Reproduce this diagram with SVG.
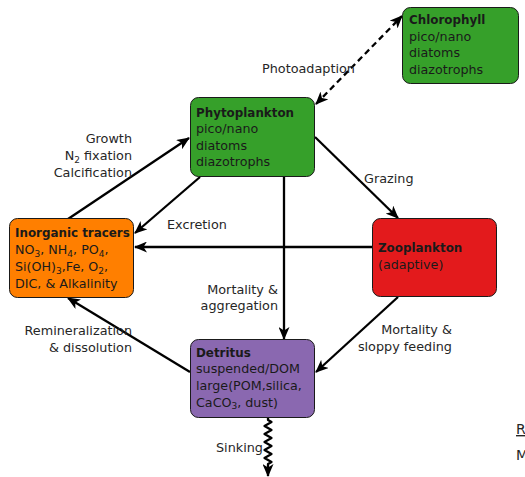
<svg xmlns="http://www.w3.org/2000/svg" width="525" height="477" viewBox="0 0 525 477">
<style>
text{font-family:"DejaVu Sans","Liberation Sans",sans-serif;font-size:12.7px;fill:#1a1a1a}
.b{font-weight:bold;font-size:11.9px}
.lab{font-size:12.8px;fill:#262626}
.r{text-anchor:end}
.box{stroke:#1a1a1a;stroke-width:1}
.a{fill:none;stroke:#000;stroke-width:2.3;marker-end:url(#ah)}
.d{fill:none;stroke:#000;stroke-width:2.3;stroke-dasharray:6,4;marker-end:url(#ah);marker-start:url(#ah)}
.sub{font-size:9px}
</style>
<defs>
<marker id="ah" viewBox="0 0 13 11" refX="12" refY="5.5" markerWidth="13" markerHeight="11" markerUnits="userSpaceOnUse" orient="auto-start-reverse">
<path d="M0,0 L13,5.5 L0,11 L3.5,5.5 Z" fill="#000"/>
</marker>
</defs>
<rect width="525" height="477" fill="#fff"/>
<g id="connectors">
<path class="a" d="M68,219 L189,138"/>
<path class="a" d="M200,177 L135,233"/>
<path class="a" d="M372,247 L135,247"/>
<path class="a" d="M315,137 L398,218"/>
<path class="a" d="M284,177 L284,339"/>
<path class="a" d="M398,297 L316,372"/>
<path class="a" d="M190,372 L68,298"/>
<path class="d" d="M316,104 L402,16"/>
<path fill="none" stroke="#000" stroke-width="2.3" stroke-linejoin="round" marker-end="url(#ah)" d="M268,418 L268,420 L271.5,422 L264.5,426 L271.5,430 L264.5,434 L271.5,438 L264.5,442 L271.5,446 L264.5,450 L271.5,454 L264.5,458 L271.5,462 L268,464 L268,476"/>
</g>
<g id="labels">
<text class="lab" x="262" y="73">Photoadaption</text>
<text class="lab r" x="132" y="143">Growth</text>
<text class="lab r" x="132" y="160">N<tspan class="sub" dy="3">2</tspan><tspan dy="-3"> fixation</tspan></text>
<text class="lab r" x="132" y="177">Calcification</text>
<text class="lab" x="167" y="229">Excretion</text>
<text class="lab" x="364" y="183">Grazing</text>
<text class="lab r" x="278" y="294">Mortality &amp;</text>
<text class="lab r" x="278" y="310">aggregation</text>
<text class="lab r" x="132" y="335">Remineralization</text>
<text class="lab r" x="132" y="352">&amp; dissolution</text>
<text class="lab r" x="452" y="334">Mortality &amp;</text>
<text class="lab r" x="452" y="351">sloppy feeding</text>
<text class="lab" x="216" y="452">Sinking</text>
<text class="lab" x="516" y="434" style="font-size:14px" text-decoration="underline">R</text>
<text class="lab" x="516" y="460" style="font-size:14px">M</text>
</g>
<g id="chlorophyll">
<rect class="box" x="402.5" y="7.5" width="116" height="76" rx="8" fill="#36a02a"/>
<text class="b" x="409" y="24">Chlorophyll</text>
<text x="409" y="40.5">pico/nano</text>
<text x="409" y="57">diatoms</text>
<text x="409" y="73.5">diazotrophs</text>
</g>
<g id="phytoplankton">
<rect class="box" x="190.5" y="97.5" width="124" height="79" rx="8" fill="#36a02a"/>
<text class="b" x="196" y="116.5">Phytoplankton</text>
<text x="196" y="133">pico/nano</text>
<text x="196" y="149.5">diatoms</text>
<text x="196" y="166">diazotrophs</text>
</g>
<g id="inorganic">
<rect class="box" x="9.5" y="218.5" width="124" height="79" rx="8" fill="#ff7f00"/>
<text class="b" x="15" y="237">Inorganic tracers</text>
<text x="15" y="254">NO<tspan class="sub" dy="2.5">3</tspan><tspan dy="-2.5">, NH</tspan><tspan class="sub" dy="2.5">4</tspan><tspan dy="-2.5">, PO</tspan><tspan class="sub" dy="2.5">4</tspan><tspan dy="-2.5">,</tspan></text>
<text x="15" y="271">Si(OH)<tspan class="sub" dy="2.5">3</tspan><tspan dy="-2.5">,Fe, O</tspan><tspan class="sub" dy="2.5">2</tspan><tspan dy="-2.5">,</tspan></text>
<text x="15" y="287.5">DIC, &amp; Alkalinity</text>
</g>
<g id="zooplankton">
<rect class="box" x="372.5" y="218.5" width="124" height="78" rx="8" fill="#e31a1c"/>
<text class="b" x="378" y="252">Zooplankton</text>
<text x="378" y="269">(adaptive)</text>
</g>
<g id="detritus">
<rect class="box" x="190.5" y="339.5" width="124" height="78" rx="8" fill="#8a68b0"/>
<text class="b" x="196" y="356.5">Detritus</text>
<text x="196" y="373">suspended/DOM</text>
<text x="196" y="390">large(POM,silica,</text>
<text x="196" y="406.5">CaCO<tspan class="sub" dy="2.5">3</tspan><tspan dy="-2.5">, dust)</tspan></text>
</g>
</svg>
